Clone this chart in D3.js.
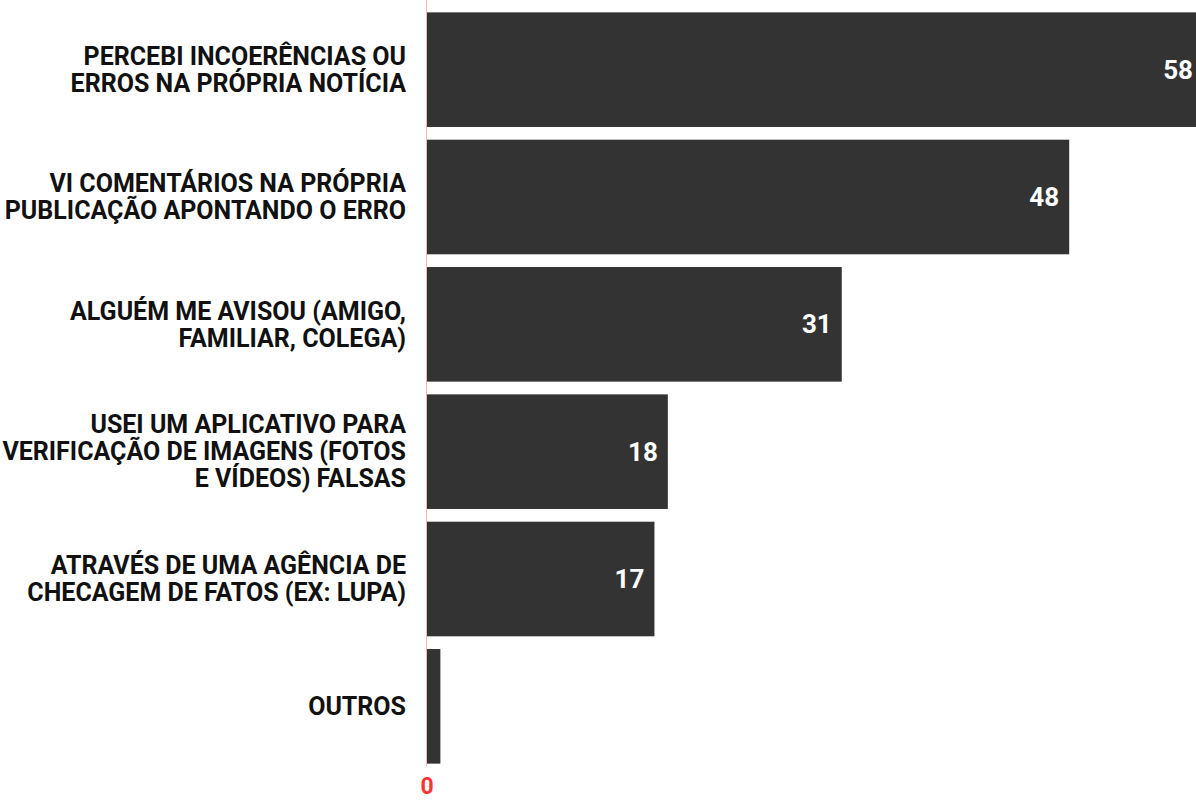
<!DOCTYPE html>
<html>
<head>
<meta charset="utf-8">
<script src="https://cdn.jsdelivr.net/npm/d3@7"></script>
<style>
  body { margin: 0; background: #fff; }
  svg { display: block; font-family: Roboto, "Noto Sans", sans-serif; }
</style>
</head>
<body>
<div id="chart"></div>
<script>
var categories = [
  ["PERCEBI INCOERÊNCIAS OU", "ERROS NA PRÓPRIA NOTÍCIA"],
  ["VI COMENTÁRIOS NA PRÓPRIA", "PUBLICAÇÃO APONTANDO O ERRO"],
  ["ALGUÉM ME AVISOU (AMIGO,", "FAMILIAR, COLEGA)"],
  ["USEI UM APLICATIVO PARA", "VERIFICAÇÃO DE IMAGENS (FOTOS", "E VÍDEOS) FALSAS"],
  ["ATRAVÉS DE UMA AGÊNCIA DE", "CHECAGEM DE FATOS (EX: LUPA)"],
  ["OUTROS"]
]
var values = [58, 48, 31, 18, 17, 1]
var xTicks = [0]

var width = 1196, height = 801

var svg = d3.select("#chart").append("svg")
  .attr("width", width)
  .attr("height", height)

var idx = d3.range(values.length)

var y = d3.scaleBand()
  .domain(idx)
  .range([6, 770])
  .paddingInner(0.1)
  .paddingOuter(0.05)

var x = d3.scaleLinear()
  .domain([0, 58])
  .range([427, 1203])

// bars
svg.append("g").selectAll("rect")
  .data(idx)
  .enter()
    .append("rect")
    .attr("x", x(0))
    .attr("y", (d)=>y(d))
    .attr("width", (d)=>x(values[d]) - x(0))
    .attr("height", y.bandwidth())
    .attr("fill", "#333333")

// zero line
svg.append("line")
  .attr("x1", x(0) - 0.5).attr("x2", x(0) - 0.5)
  .attr("y1", 0).attr("y2", 766)
  .attr("stroke", "#ffb3b3")
  .attr("stroke-width", 1)

// value labels (skip the tiny bar)
svg.append("g").selectAll("text")
  .data(idx.filter((d)=>values[d] > 5))
  .enter()
    .append("text")
    .attr("x", (d)=>x(values[d]) - 10)
    .attr("y", (d)=>y(d) + y.bandwidth() / 2)
    .attr("dy", "0.35em")
    .attr("text-anchor", "end")
    .attr("fill", "#fff")
    .attr("font-weight", "bold")
    .attr("font-size", "26px")
    .text((d)=>values[d])

// category labels
var lineH = 27
var labels = svg.append("g").selectAll("text")
  .data(idx)
  .enter()
    .append("text")
    .attr("text-anchor", "end")
    .attr("font-weight", "bold")
    .attr("font-size", "25px")
    .attr("fill", "#111")

labels.each(function(d){
  var lines = categories[d]
  var cy = y(d) + y.bandwidth() / 2
  var top = cy - (lines.length - 1) * lineH / 2
  d3.select(this).selectAll("tspan")
    .data(lines)
    .enter()
      .append("tspan")
      .attr("x", 406)
      .attr("y", (l,i)=>top + i * lineH)
      .attr("dy", "0.35em")
      .text((l)=>l)
})

// x axis tick
svg.append("g").selectAll("text")
  .data(xTicks)
  .enter()
    .append("text")
    .attr("x", (d)=>x(d))
    .attr("y", 794)
    .attr("text-anchor", "middle")
    .attr("font-weight", "bold")
    .attr("font-size", "23px")
    .attr("fill", "#ff3333")
    .text((d)=>d)
</script>
</body>
</html>
